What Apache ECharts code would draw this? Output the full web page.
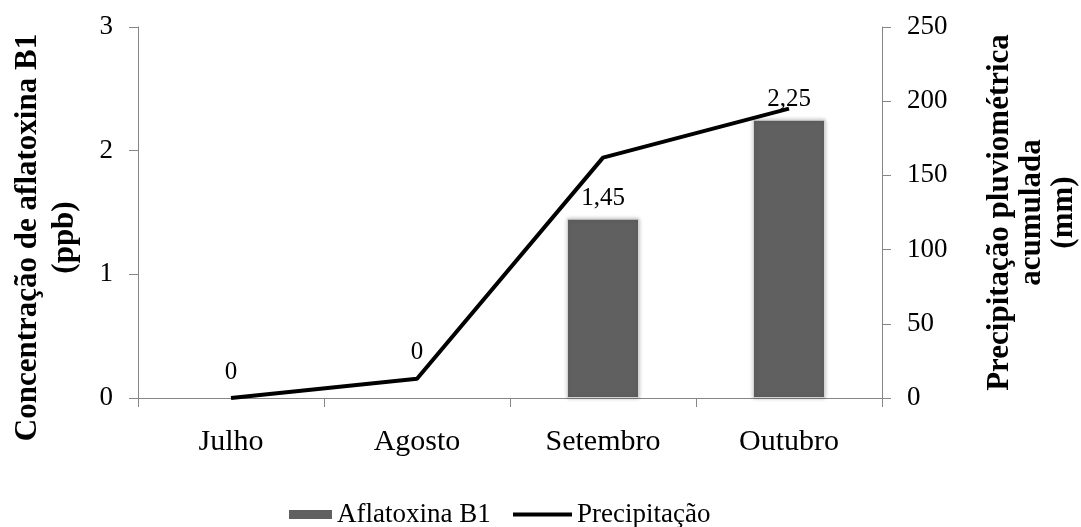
<!DOCTYPE html>
<html>
<head>
<meta charset="utf-8">
<script src="https://cdn.jsdelivr.net/npm/echarts@6/dist/echarts.min.js"></script>
<style>
  html, body { margin: 0; padding: 0; background: #fff; }
  #chart { width: 1081px; height: 527px; }
</style>
</head>
<body>
<div id="chart"></div>
<script>
// Monthly aflatoxin B1 concentration (bars) and accumulated rainfall (line)
const months = ['Julho', 'Agosto', 'Setembro', 'Outubro'];
const aflatoxinaB1 = [0, 0, 1.45, 2.25];          // ppb
const precipitacao = [0, 13, 162, 195];           // mm, accumulated
const leftTicks = [0, 1, 2, 3];
const rightTicks = [0, 50, 100, 150, 200, 250];

const serif = '"Liberation Serif", "Times New Roman", serif';
const axisGray = '#868686';

// extra vertical shift for the two zero labels so they sit above the line
const zeroLabelShift = [-5, -25, 0, 0];

const barData = aflatoxinaB1.map((v, i) => ({
  value: v,
  label: { offset: [0, zeroLabelShift[i]] },
  // empty bars get no outline or glow
  itemStyle: v === 0 ? { borderWidth: 0, shadowBlur: 0 } : undefined
}));

// legend text sits a little above its key
const legendText = { fontFamily: serif, fontSize: 27, color: '#000', padding: [0, 0, 12, 0] };

const chart = echarts.init(document.getElementById('chart'));
chart.setOption({
  animation: false,
  grid: {
    left: 138, right: 199, top: 27, bottom: 129,
    containLabel: false,
    outerBoundsMode: 'none'
  },
  legend: [
    {
      data: [{
        name: 'Aflatoxina B1', icon: 'rect',
        itemStyle: { borderWidth: 0, shadowBlur: 0 }
      }],
      left: 289, top: 501,
      itemWidth: 43, itemHeight: 9, itemGap: 4,
      textStyle: legendText,
      padding: 0
    },
    {
      data: [{ name: 'Precipitação', icon: 'rect' }],
      left: 513, top: 501,
      itemWidth: 59, itemHeight: 4, itemGap: 2,
      textStyle: legendText,
      padding: 0
    }
  ],
  xAxis: {
    type: 'category',
    data: months,
    boundaryGap: true,
    axisLine: { lineStyle: { color: axisGray, width: 1 } },
    axisTick: { show: true, length: 9, lineStyle: { color: axisGray } },
    axisLabel: { fontFamily: serif, fontSize: 30, color: '#000', margin: 29 }
  },
  yAxis: [
    {
      type: 'value',
      min: 0, max: 3, interval: 1,
      position: 'left',
      axisLine: { show: true, lineStyle: { color: axisGray, width: 1 } },
      axisTick: { show: true, length: 9, lineStyle: { color: axisGray } },
      splitLine: { show: false },
      axisLabel: {
        fontFamily: serif, fontSize: 27, color: '#000', margin: 25,
        formatter: v => leftTicks.includes(v) ? String(v) : ''
      },
      name: 'Concentração de aflatoxina B1\n(ppb)',
      nameLocation: 'middle',
      nameRotate: 90,
      nameGap: 55,
      nameTextStyle: {
        fontFamily: serif, fontSize: 31, fontWeight: 'bold', color: '#000',
        lineHeight: 37, padding: [0, 50, 0, 0]
      }
    },
    {
      type: 'value',
      min: 0, max: 250, interval: 50,
      position: 'right',
      axisLine: { show: true, lineStyle: { color: axisGray, width: 1 } },
      axisTick: { show: true, length: 9, lineStyle: { color: axisGray } },
      splitLine: { show: false },
      axisLabel: {
        fontFamily: serif, fontSize: 27, color: '#000', margin: 25,
        formatter: v => rightTicks.includes(v) ? String(v) : ''
      },
      name: 'Precipitação pluviométrica\nacumulada\n(mm)',
      nameLocation: 'middle',
      nameRotate: 90,
      nameGap: 102,
      nameTextStyle: {
        fontFamily: serif, fontSize: 31, fontWeight: 'bold', color: '#000', lineHeight: 32
      }
    }
  ],
  series: [
    {
      name: 'Aflatoxina B1',
      type: 'bar',
      yAxisIndex: 0,
      data: barData,
      barWidth: 72,
      itemStyle: {
        color: '#606060',
        borderColor: '#d4d4d4',
        borderWidth: 1,
        shadowColor: 'rgba(0,0,0,0.25)',
        shadowBlur: 4
      },
      label: {
        show: true,
        position: 'top',
        distance: 8,
        fontFamily: serif,
        fontSize: 25,
        color: '#000',
        formatter: p => String(p.value).replace('.', ',')
      },
      z: 2
    },
    {
      name: 'Precipitação',
      type: 'line',
      yAxisIndex: 1,
      data: precipitacao,
      symbol: 'none',
      lineStyle: { color: '#000', width: 4 },
      itemStyle: { color: '#000' },
      z: 3
    }
  ]
});
</script>
</body>
</html>
